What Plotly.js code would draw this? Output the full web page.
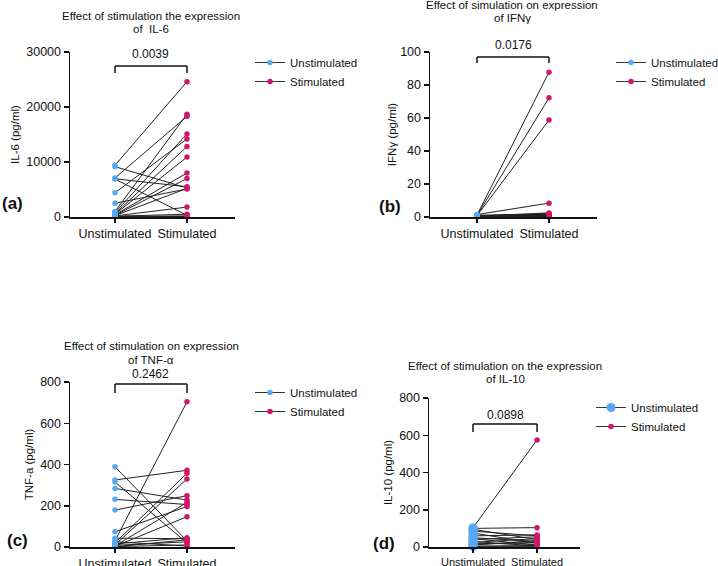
<!DOCTYPE html>
<html>
<head>
<meta charset="utf-8">
<script src="https://cdn.plot.ly/plotly-3.0.1.min.js"></script>
<style>html,body{margin:0;padding:0;background:#fff;overflow:hidden;width:718px;height:566px}#chart{width:718px;height:566px}</style>
</head>
<body>
<div id="chart"></div>
<script>
// ---- Data ----
const categories = ["Unstimulated", "Stimulated"];
const seriesNames = ["Unstimulated", "Stimulated"];

const il6Unstim = [9400, 9150, 7100, 6950, 6900, 4400, 2500, 1000, 800, 600, 500, 400, 300, 250, 200, 150, 100, 50];
const il6Stim   = [24600, 5300, 18300, 5500, 300, 14200, 5100, 18700, 15100, 12800, 10900, 8000, 7000, 5200, 1800, 500, 200, 100];

const ifngUnstim = [1.2, 1.0, 0.8, 1.5, 0.5, 0.7, 1.0, 0.3, 0.6, 0.9, 1.1, 0.4, 0.2, 0.8];
const ifngStim   = [87.8, 72.2, 58.8, 8.4, 2.5, 2.0, 1.6, 1.3, 1.0, 0.8, 0.5, 0.3, 0.2, 1.8];

const tnfUnstim = [389, 325, 315, 284, 231, 179, 74, 43, 30, 20, 10, 5, 3, 2, 8, 15, 1, 25];
const tnfStim   = [30, 372, 20, 228, 206, 249, 196, 40, 704, 357, 330, 216, 147, 10, 25, 45, 35, 5];

const il10Unstim = [104, 100, 95, 85, 75, 60, 50, 45, 40, 30, 25, 20, 15, 10, 5, 2];
const il10Stim   = [575, 104, 40, 60, 20, 65, 30, 10, 55, 5, 45, 15, 25, 35, 8, 2];

const titlesLine1 = ["Effect of stimulation the expression", "Effect of simulation on expression", "Effect of stimulation on expression", "Effect of stimulation on the expression"];
const titlesLine2 = ["of  IL-6", "of IFNγ", "of TNF-α", "of IL-10"];
const yTitles = ["IL-6 (pg/ml)", "IFNγ (pg/ml)", "TNF-a (pg/ml)", "IL-10 (pg/ml)"];
const pValues = ["0.0039", "0.0176", "0.2462", "0.0898"];
const panelLabels = ["(a)", "(b)", "(c)", "(d)"];

// ---- Layout geometry (pixels) ----
const W = 718, H = 566;
const fx = v => v / W, fy = v => 1 - v / H;
const FONT = 'Arial, "Liberation Sans", sans-serif';
const BLUE = "#58A8F2", PINK = "#D3146C";

const panels = [
  {u: il6Unstim, s: il6Stim, xpx: [70, 235], ypx: [217, 52], xr: [-0.625, 1.667], yr: [0, 30000], dtick: 10000,
   t1: 16, t2: 29, tx: 151, pv: 54, br: 66, brd: 73, lab: [12, 203], leg: [250, 48], uSize: 5.5, xf: 12.5, so: 4},
  {u: ifngUnstim, s: ifngStim, xpx: [430, 597], ypx: [217, 52], xr: [-0.653, 1.667], yr: [0, 100], dtick: 20,
   t1: 5, t2: 18, tx: 512, pv: 45, br: 57, brd: 63, lab: [390, 207], leg: [611, 48], uSize: 5.5, xf: 12.5, so: 1},
  {u: tnfUnstim, s: tnfStim, xpx: [70, 235], ypx: [547, 382], xr: [-0.625, 1.667], yr: [0, 800], dtick: 200,
   t1: 346, t2: 360, tx: 151, pv: 374, br: 384, brd: 393, lab: [17, 540], leg: [250, 378], uSize: 5.5, xf: 12.5, so: 4},
  {u: il10Unstim, s: il10Stim, xpx: [429, 580], ypx: [547, 398], xr: [-0.6875, 1.67], yr: [0, 800], dtick: 200,
   t1: 366, t2: 379, tx: 505, pv: 415, br: 424, brd: 432, lab: [384, 543], leg: [591, 393], uSize: 9, xf: 11, so: 4}
];

const traces = [];
const layout = {
  width: W, height: H, autosize: false,
  margin: {l: 0, r: 0, t: 0, b: 0, autoexpand: false},
  paper_bgcolor: "#fff", plot_bgcolor: "rgba(0,0,0,0)",
  font: {family: FONT, size: 12, color: "#111"},
  annotations: [], shapes: []
};

function interleave(vals) {
  const out = [];
  vals.forEach(v => { out.push(v); out.push(null); });
  return out;
}
function repeatCat(cat, n) {
  const out = [];
  for (let i = 0; i < n; i++) { out.push(cat); out.push(cat); }
  return out;
}

panels.forEach((p, k) => {
  const idx = k === 0 ? "" : String(k + 1);
  const xa = "x" + idx, ya = "y" + idx;
  const legName = k === 0 ? "legend" : "legend" + (k + 1);

  p.u.forEach((uv, i) => {
    traces.push({
      type: "scatter", mode: "lines", xaxis: xa, yaxis: ya,
      x: categories, y: [uv, p.s[i]],
      line: {color: "#222", width: 1}, showlegend: false, hoverinfo: "skip", cliponaxis: false
    });
  });
  traces.push({
    type: "scatter", mode: "lines+markers", xaxis: xa, yaxis: ya, name: seriesNames[0], legend: legName,
    x: repeatCat(categories[0], p.u.length), y: interleave(p.u), connectgaps: false,
    line: {color: "#333", width: 1}, marker: {color: BLUE, size: p.uSize}, cliponaxis: false
  });
  traces.push({
    type: "scatter", mode: "lines+markers", xaxis: xa, yaxis: ya, name: seriesNames[1], legend: legName,
    x: repeatCat(categories[1], p.s.length), y: interleave(p.s), connectgaps: false,
    line: {color: "#333", width: 1}, marker: {color: PINK, size: 5.5}, cliponaxis: false
  });

  layout["xaxis" + idx] = {
    domain: [fx(p.xpx[0]), fx(p.xpx[1])], anchor: ya, type: "category",
    categoryorder: "array", categoryarray: categories,
    range: p.xr, showline: true, linecolor: "#111", linewidth: 1.5,
    ticks: "outside", ticklen: 4, tickwidth: 1.5, tickcolor: "#111", tickangle: 0,
    showgrid: false, zeroline: false, tickfont: {size: p.xf, color: "#111"}, fixedrange: true
  };
  layout["yaxis" + idx] = {
    domain: [fy(p.ypx[0]), fy(p.ypx[1])], anchor: xa, range: p.yr, dtick: p.dtick, tick0: 0,
    tickformat: "d",
    showline: true, linecolor: "#111", linewidth: 1.5,
    ticks: "outside", ticklen: 5, tickwidth: 1.5, tickcolor: "#111",
    showgrid: false, zeroline: false, tickfont: {size: 12.5, color: "#111"},
    title: {text: yTitles[k], font: {size: 11.5, color: "#111"}, standoff: p.so}, fixedrange: true
  };
  layout[legName] = {
    x: fx(p.leg[0]), y: fy(p.leg[1]), xanchor: "left", yanchor: "top",
    bgcolor: "rgba(0,0,0,0)", font: {size: 11.5, color: "#111"}, tracegroupgap: 0
  };

  layout.annotations.push({xref: "paper", yref: "paper", x: fx(p.tx), y: fy(p.t1), text: titlesLine1[k],
    showarrow: false, xanchor: "center", yanchor: "middle", font: {size: 11.5, color: "#111"}});
  layout.annotations.push({xref: "paper", yref: "paper", x: fx(p.tx), y: fy(p.t2), text: titlesLine2[k],
    showarrow: false, xanchor: "center", yanchor: "middle", font: {size: 11.5, color: "#111"}});
  layout.annotations.push({xref: xa, yref: "paper", x: 0.5, y: fy(p.pv), text: pValues[k],
    showarrow: false, xanchor: "center", yanchor: "middle", font: {size: 12, color: "#111"}});
  layout.annotations.push({xref: "paper", yref: "paper", x: fx(p.lab[0]), y: fy(p.lab[1]), text: "<b>" + panelLabels[k] + "</b>",
    showarrow: false, xanchor: "center", yanchor: "middle", font: {size: 17, color: "#111"}});
  const ln = {color: "#111", width: 1.5};
  layout.shapes.push({type: "line", xref: xa, yref: "paper", x0: 0, x1: 1, y0: fy(p.br), y1: fy(p.br), line: ln});
  layout.shapes.push({type: "line", xref: xa, yref: "paper", x0: 0, x1: 0, y0: fy(p.br), y1: fy(p.brd), line: ln});
  layout.shapes.push({type: "line", xref: xa, yref: "paper", x0: 1, x1: 1, y0: fy(p.br), y1: fy(p.brd), line: ln});
});

Plotly.newPlot("chart", traces, layout, {displayModeBar: false, staticPlot: true});
</script>
</body>
</html>
